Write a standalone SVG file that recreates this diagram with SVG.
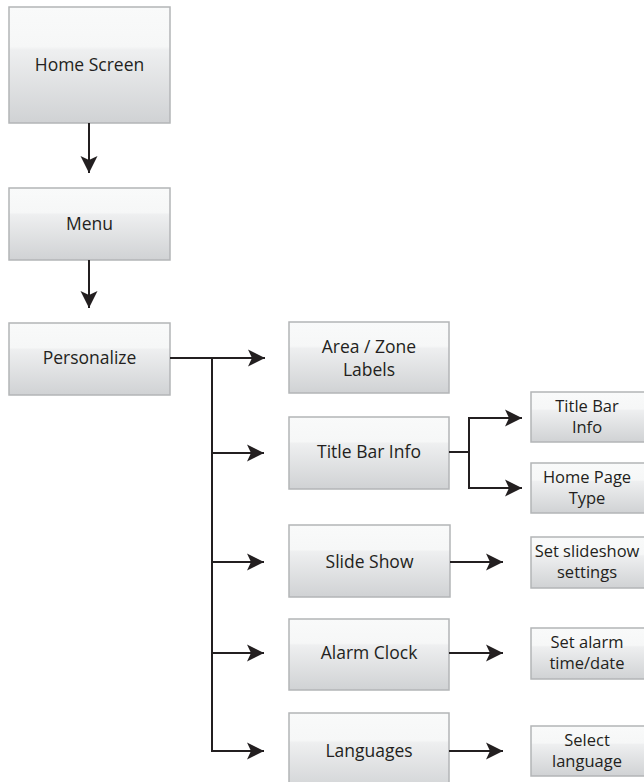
<svg xmlns="http://www.w3.org/2000/svg" width="644" height="782" viewBox="0 0 644 782">
<defs>
<linearGradient id="g" x1="0" y1="0" x2="0" y2="1">
<stop offset="0" stop-color="#f9fafa"/>
<stop offset="0.34" stop-color="#f6f7f7"/>
<stop offset="0.37" stop-color="#eeeff0"/>
<stop offset="1" stop-color="#d0d2d4"/>
</linearGradient>
<marker id="ah" viewBox="-18 -9 19 18" refX="0" refY="0" markerWidth="19" markerHeight="18" markerUnits="userSpaceOnUse" orient="auto">
<path d="M0,0 L-17,-8.5 L-13,0 L-17,8.5 Z" fill="#231f20"/>
</marker>
<style>
.box{fill:url(#g);stroke:#b3b5b7;stroke-width:1.5}
.t{font-family:"Open Sans","Liberation Sans",sans-serif;font-size:17.5px;fill:#231f20;text-anchor:middle}
.s{font-family:"Open Sans","Liberation Sans",sans-serif;font-size:16.5px;fill:#231f20;text-anchor:middle}
.c{fill:none;stroke:#231f20;stroke-width:2}
</style>
</defs>
<rect width="644" height="782" fill="#ffffff"/>

<g id="home"><rect class="box" x="9" y="7" width="161" height="116"/><text class="t" x="89.5" y="71">Home Screen</text></g>
<g id="menu"><rect class="box" x="9" y="188" width="161" height="72"/><text class="t" x="89.5" y="230">Menu</text></g>
<g id="personalize"><rect class="box" x="9" y="323" width="161" height="72"/><text class="t" x="89.5" y="364">Personalize</text></g>

<g id="area"><rect class="box" x="289" y="322" width="160" height="71"/><text class="t" x="369" y="352.5">Area / Zone</text><text class="t" x="369" y="375.5">Labels</text></g>
<g id="titlebar"><rect class="box" x="289" y="417" width="160" height="72"/><text class="t" x="369" y="458">Title Bar Info</text></g>
<g id="slideshow"><rect class="box" x="289" y="525" width="161" height="72"/><text class="t" x="369.5" y="568">Slide Show</text></g>
<g id="alarm"><rect class="box" x="289" y="619" width="160" height="71"/><text class="t" x="369" y="659">Alarm Clock</text></g>
<g id="languages"><rect class="box" x="289" y="713" width="160" height="80"/><text class="t" x="369" y="757">Languages</text></g>

<g id="tbinfo"><rect class="box" x="531" y="392" width="114" height="50"/><text class="s" x="587" y="412">Title Bar</text><text class="s" x="587" y="433">Info</text></g>
<g id="hptype"><rect class="box" x="531" y="463" width="114" height="50"/><text class="s" x="587" y="483">Home Page</text><text class="s" x="587" y="504">Type</text></g>
<g id="ssset"><rect class="box" x="531" y="537" width="114" height="51"/><text class="s" x="587" y="557">Set slideshow</text><text class="s" x="587" y="578">settings</text></g>
<g id="alarmset"><rect class="box" x="531" y="628" width="114" height="51"/><text class="s" x="587" y="648">Set alarm</text><text class="s" x="587" y="669">time/date</text></g>
<g id="langsel"><rect class="box" x="531" y="726" width="114" height="50"/><text class="s" x="587" y="746">Select</text><text class="s" x="587" y="767">language</text></g>

<g id="connectors">
<path class="c" d="M89,123 V173" marker-end="url(#ah)"/>
<path class="c" d="M89,260 V308" marker-end="url(#ah)"/>
<path class="c" d="M170,358 H265" marker-end="url(#ah)"/>
<path class="c" d="M212,357 V752"/>
<path class="c" d="M211,453 H264" marker-end="url(#ah)"/>
<path class="c" d="M211,562 H264" marker-end="url(#ah)"/>
<path class="c" d="M211,653 H264" marker-end="url(#ah)"/>
<path class="c" d="M211,751 H264" marker-end="url(#ah)"/>
<path class="c" d="M449,452 H469"/>
<path class="c" d="M469,417 V489"/>
<path class="c" d="M468,418 H522" marker-end="url(#ah)"/>
<path class="c" d="M468,488 H522" marker-end="url(#ah)"/>
<path class="c" d="M450,562 H503" marker-end="url(#ah)"/>
<path class="c" d="M449,653 H503" marker-end="url(#ah)"/>
<path class="c" d="M449,751 H503" marker-end="url(#ah)"/>
</g>
</svg>
